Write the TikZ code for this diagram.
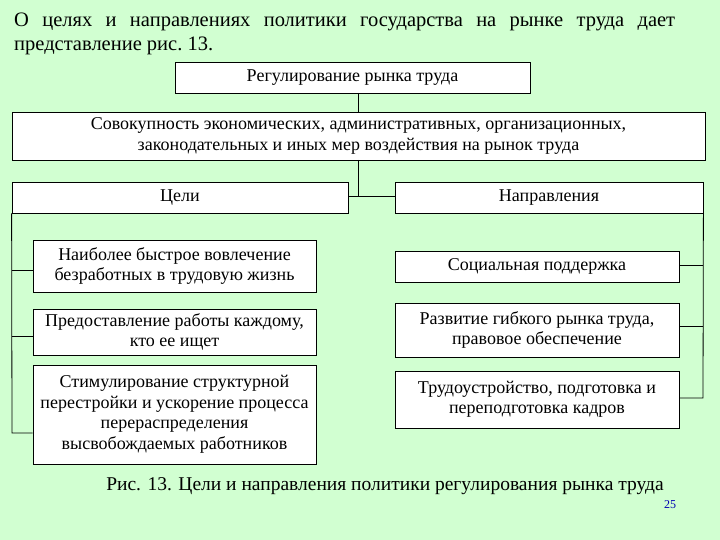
\documentclass[tikz,border=0pt]{standalone}
\usepackage{fontspec}
\setmainfont{Liberation Serif}
\begin{document}
\begin{tikzpicture}[x=1pt,y=-1pt,
  bx/.style={draw=black,fill=white,line width=0.8pt,align=center,inner sep=0pt,font=\fontsize{18}{20.5}\selectfont},
  ln/.style={draw=black,line width=0.8pt}]
\fill[green!18!white] (0,0) rectangle (720,540);
\useasboundingbox (0,0) rectangle (720,540);
\node[anchor=west,text width=661pt,align=justify,inner sep=0pt,font=\fontsize{20.5}{24}\selectfont] (t) at (14,34)
 {О целях и направлениях политики государства на рынке труда дает представление рис.~13.};
\node[bx,minimum width=355pt,minimum height=31pt] (a) at (352.5,77.5) {Регулирование рынка труда};
\node[bx,minimum width=693pt,minimum height=48pt] (b) at (358.5,136) {Совокупность экономических, административных, организационных,\\законодательных и иных мер воздействия на рынок труда};
\node[bx,minimum width=336pt,minimum height=31pt] (c) at (180,197.5) {Цели};
\node[bx,minimum width=308pt,minimum height=31pt] (d) at (549,197.5) {Направления};
\node[bx,minimum width=283pt,minimum height=52pt] (l1) at (174.5,266) {Наиболее быстрое вовлечение\\безработных в трудовую жизнь};
\node[bx,minimum width=283pt,minimum height=46pt] (l2) at (174.5,332) {Предоставление работы каждому,\\кто ее ищет};
\node[bx,minimum width=283pt,minimum height=99pt] (l3) at (174.5,414.5) {Стимулирование структурной\\перестройки и ускорение процесса\\перераспределения\\высвобождаемых работников};
\node[bx,minimum width=284pt,minimum height=31pt] (r1) at (537,266.5) {Социальная поддержка};
\node[bx,minimum width=284pt,minimum height=54pt] (r2) at (537,330) {Развитие гибкого рынка труда,\\правовое обеспечение};
\node[bx,minimum width=284pt,minimum height=57pt] (r3) at (537,399.5) {Трудоустройство, подготовка и\\переподготовка кадров};
\coordinate (j) at (358,196);
\draw[ln] (358,93) -- (358,112);
\draw[ln] (358,160) -- (j);
\draw[ln] (c.east |- j) -- (d.west |- j);
\draw[ln] (c.south west) -- (12,433) -- (l3.west |- 0,433);
\draw[ln] (12,270) -- (l1.west |- 0,270);
\draw[ln] (12,336) -- (l2.west |- 0,336);
\draw[ln] (d.south east) -- (703,398) -- (r3.east |- 0,398);
\draw[ln] (703,265) -- (r1.east |- 0,265);
\draw[ln] (703,326) -- (r2.east |- 0,326);
\node[font=\fontsize{19.5}{22}\selectfont,inner sep=0pt] (cap) at (385,486) {Рис. 13. Цели и направления политики регулирования рынка труда};
\node[font=\fontsize{12}{14}\selectfont,text=blue!70!black,inner sep=0pt] (n) at (670,505) {25};
\end{tikzpicture}
\end{document}
